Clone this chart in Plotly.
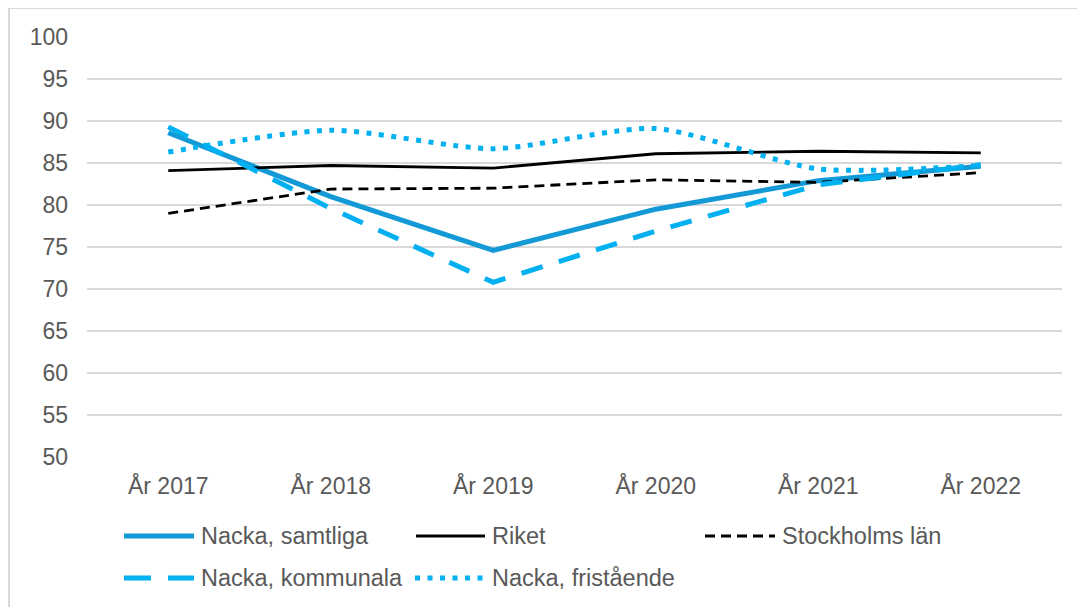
import plotly.graph_objects as go

years = ["År 2017", "År 2018", "År 2019", "År 2020", "År 2021", "År 2022"]
nacka_samtliga = [88.6, 81.0, 74.6, 79.5, 82.9, 84.6]
riket = [84.1, 84.7, 84.4, 86.1, 86.4, 86.2]
stockholms_lan = [79.0, 81.9, 82.0, 83.0, 82.7, 83.85]
nacka_kommunala = [89.3, 79.6, 70.8, 76.9, 82.4, 84.8]
nacka_fristaende = [86.3, 88.9, 86.7, 89.1, 84.3, 84.7]

y_ticks = list(range(50, 101, 5))

BLUE = "#1399d6"
CYAN = "#00b0f0"
TEXT = "#595959"
FONT = "Liberation Sans, Arial, sans-serif"

OFF = 8  # page body margin
W, H = 1085 - OFF, 607 - OFF
L, R, T, B = 87 - OFF, 1062 - OFF, 37 - OFF, 457 - OFF


def px(x):  # page pixel -> paper
    return (x - OFF - L) / (R - L)


def py(y):
    return (B - (y - OFF)) / (B - T)


series = [
    ("Nacka, samtliga", nacka_samtliga, dict(color=BLUE, width=5), "linear"),
    ("Riket", riket, dict(color="black", width=2.8), "linear"),
    ("Stockholms län", stockholms_lan, dict(color="black", width=2.8, dash="10px,6px"), "linear"),
    ("Nacka, kommunala", nacka_kommunala, dict(color=CYAN, width=5, dash="22px,17px"), "linear"),
    ("Nacka, fristående", nacka_fristaende, dict(color=CYAN, width=5, dash="5px,7.5px"), "spline"),
]

fig = go.Figure()
for name, vals, line, shape in series:
    ln = dict(line)
    ln["shape"] = shape
    if shape == "spline":
        ln["smoothing"] = 0.7
    fig.add_trace(go.Scatter(x=years, y=vals, name=name, mode="lines", line=ln, showlegend=False))

shapes = []
annotations = []
# chart border (top and left visible)
shapes.append(dict(type="line", xref="paper", yref="paper",
                   x0=px(8), x1=px(1085), y0=py(8), y1=py(8),
                   line=dict(color="#d9d9d9", width=2), layer="below"))
shapes.append(dict(type="line", xref="paper", yref="paper",
                   x0=px(9), x1=px(9), y0=py(8), y1=py(607),
                   line=dict(color="#d9d9d9", width=2), layer="below"))

# custom legend
legend_items = [
    ("Nacka, samtliga", 124, 194, 536, dict(color=BLUE, width=5)),
    ("Riket", 416, 485, 536, dict(color="black", width=2.8)),
    ("Stockholms län", 705, 775, 536, dict(color="black", width=2.8, dash="10px,6px")),
    ("Nacka, kommunala", 124, 194, 578, dict(color=CYAN, width=5, dash="27px,17px")),
    ("Nacka, fristående", 415, 485, 578, dict(color=CYAN, width=5, dash="5px,7.5px")),
]
for name, x0, x1, y, line in legend_items:
    shapes.append(dict(type="line", xref="paper", yref="paper",
                       x0=px(x0), x1=px(x1), y0=py(y), y1=py(y), line=line))
    annotations.append(dict(xref="paper", yref="paper", x=px(x1 + 5), y=py(y),
                            xanchor="left", yanchor="middle", text=name, showarrow=False,
                            font=dict(family=FONT, size=23.5, color=TEXT)))

fig.update_layout(
    width=W, height=H,
    margin=dict(l=L, r=W - R, t=T, b=H - B),
    paper_bgcolor="white", plot_bgcolor="white",
    font=dict(family=FONT, size=23, color=TEXT),
    shapes=shapes, annotations=annotations,
    showlegend=False,
)
fig.update_xaxes(type="category", range=[-0.5, 5.5], showgrid=False, zeroline=False,
                 showline=False, ticks="", ticklabelstandoff=13,
                 tickfont=dict(family=FONT, size=23, color=TEXT))
fig.update_yaxes(range=[50, 100], tickvals=y_ticks, showgrid=True, gridcolor="#d9d9d9",
                 gridwidth=1.5, zeroline=False, showline=False, ticks="",
                 ticklabelstandoff=18, tickfont=dict(family=FONT, size=23, color=TEXT))

fig.write_html("out.html")
